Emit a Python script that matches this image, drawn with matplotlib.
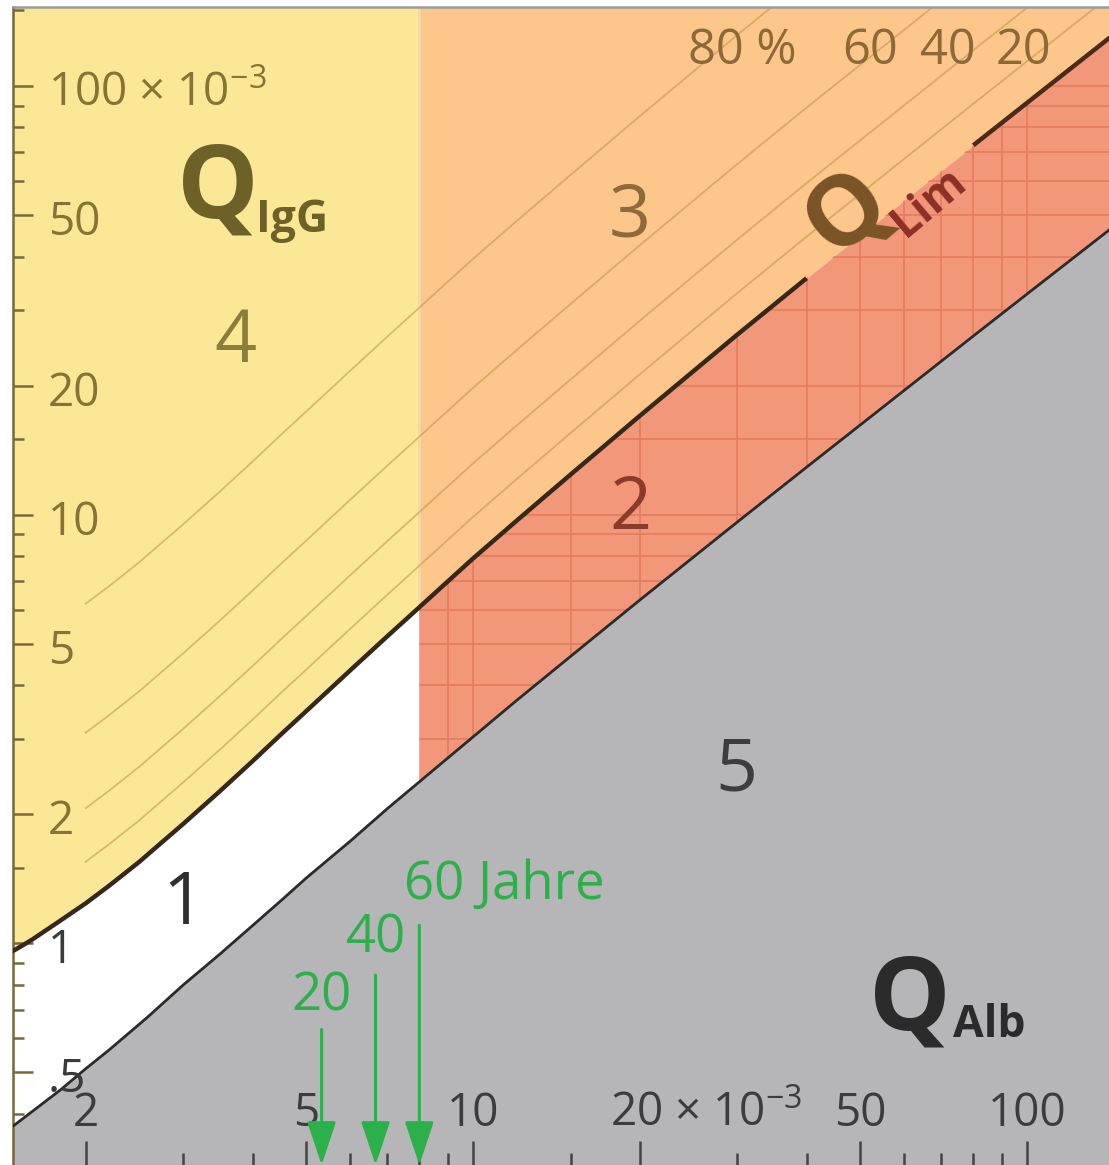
import numpy as np
import matplotlib.pyplot as plt
import matplotlib.transforms as mtransforms

plt.rcParams['font.family'] = ['Open Sans', 'DejaVu Sans']
plt.rcParams['mathtext.fontset'] = 'custom'
plt.rcParams['mathtext.rm'] = 'Open Sans'

q_alb = np.array([1.4, 1.45, 1.5, 1.6, 1.8, 2, 2.2, 2.5, 2.6, 3, 3.5, 4, 4.5, 5, 6, 7, 8,
                  10, 12, 15, 20, 30, 40, 80, 100, 150])
# obere Grenze Q_Lim (IgG)
q_lim_oben = np.array([0.92, 0.947, 0.97, 1.02, 1.13, 1.24, 1.36, 1.55, 1.62, 1.9, 2.27,
                       2.66, 3.07, 3.48, 4.33, 5.2, 6.08, 7.9, 9.69, 12.4, 17.0, 26.3,
                       35.6, 72.7, 91.3, 138])
# untere Grenze
q_lim_unten = np.array([0.357, 0.368, 0.38, 0.405, 0.455, 0.51, 0.563, 0.648, 0.677, 0.8,
                        0.946, 1.1, 1.257, 1.42, 1.73, 2.06, 2.38, 3.03, 3.69, 4.67, 6.32,
                        9.61, 12.9, 26.1, 32.7, 49.2])

# intrathekale Fraktion (%)
prozente = [80, 60, 40, 20]
# altersabhaengige Obergrenze Q_Alb
alter = [20, 40, 60]
alb_grenze = [5.33, 6.67, 8.0]

x_major = [2, 5, 10, 20, 50, 100]
x_minor = [3, 4, 6, 7, 8, 9, 15, 30, 40, 60, 70, 80, 90]
x_labels = ['2', '5', '10', '20 × 10$^{-3}$', '50', '100']
y_major = [0.5, 1, 2, 5, 10, 20, 50, 100]
y_minor = [0.4, 0.6, 0.7, 0.8, 0.9, 1.5, 3, 4, 6, 7, 8, 9, 15, 30, 40, 60, 70, 80, 90, 150]
y_labels = ['.5', '1', '2', '5', '10', '20', '50', '100 × 10$^{-3}$']

gelb = '#FBE897'
orange = '#FDC68A'
rot = '#F3977A'
grau = '#B6B5B7'
gruen = '#2BB04A'

fig = plt.figure(figsize=(11.09, 11.65), dpi=100)
ax = fig.add_axes([13 / 1109, 0, 1096 / 1109, 1158 / 1165])

grenze = alb_grenze[-1]
links = q_alb <= grenze
rechts = q_alb >= grenze

ax.fill_between(q_alb, q_lim_oben, 1000, where=links, color=gelb, lw=0, zorder=1)
ax.fill_between(q_alb, q_lim_oben, 1000, where=rechts, color=orange, lw=0, zorder=1)
rot_fl = ax.fill_between(q_alb, q_lim_unten, q_lim_oben, where=rechts, color=rot, lw=0, zorder=1)
ax.fill_between(q_alb, 0.01, q_lim_unten, color=grau, lw=0, zorder=1)

# Raster im Bereich 2
rot_pfad = rot_fl.get_paths()[0]
vl = ax.vlines(x_major + x_minor, 0.01, 1000, color='#E27D5E', lw=1.2, zorder=1.5)
hl = ax.hlines(y_major + y_minor, 1, 200, color='#E27D5E', lw=1.2, zorder=1.5)
vl.set_clip_path(rot_pfad, ax.transData)
hl.set_clip_path(rot_pfad, ax.transData)

# Trennlinie gelb / orange
ax.vlines(grenze, q_lim_oben[q_alb == grenze][0], 1000, color='#F4D8A6', lw=2, zorder=1.6)

# Prozentlinien
ab2 = q_alb >= 2
for p in prozente:
    ax.plot(q_alb[ab2], q_lim_oben[ab2] / (1 - p / 100), color='#BE9448', alpha=0.55,
            lw=1.3, zorder=1.8)

# Grenzlinien
teil1 = q_alb <= 40
teil2 = q_alb >= 80
ax.plot(q_alb[teil1], q_lim_oben[teil1], color='#35281A', lw=3.2, zorder=3, solid_capstyle='butt')
ax.plot(q_alb[teil2], q_lim_oben[teil2], color='#4A2A1A', lw=3.2, zorder=3, solid_capstyle='butt')
ax.plot(q_alb, q_lim_unten, color='#2B2B2B', lw=2, zorder=3)

ax.set_xscale('log')
ax.set_yscale('log')
ax.set_xlim(1.478, 140.6)
ax.set_ylim(0.304, 152.8)

ax.set_xticks(x_major)
ax.set_xticks(x_minor, minor=True)
ax.set_yticks(y_major)
ax.set_yticks(y_minor, minor=True)
ax.tick_params(which='both', direction='in', labelbottom=False, labelleft=False)
ax.tick_params(axis='x', which='major', length=17, width=1.8, color='#454545')
ax.tick_params(axis='x', which='minor', length=9, width=1.8, color='#454545')
ax.tick_params(axis='y', which='major', length=14.5, width=1.8, color='#77693A')
ax.tick_params(axis='y', which='minor', length=8, width=1.8, color='#77693A')
for t in ax.yaxis.get_major_ticks()[:2]:
    t.tick1line.set_color('#3A3A3A')
ax.set_axisbelow(False)

for s in ['right', 'bottom']:
    ax.spines[s].set_visible(False)
ax.spines['left'].set_color('#77693A')
ax.spines['left'].set_linewidth(1.8)
ax.spines['top'].set_color('#9A9A9A')
ax.spines['top'].set_linewidth(1.8)

# Achsenbeschriftungen innen
ty = mtransforms.offset_copy(mtransforms.blended_transform_factory(ax.transAxes, ax.transData),
                             fig=fig, y=-8, units='dots')
for v, lab in zip(y_major, y_labels):
    farbe = '#3A3A3A' if v <= 1 else '#857434'
    ax.text(0.032, v, lab, transform=ty, ha='left', va='center', fontsize=33, color=farbe, zorder=5)

tx = mtransforms.blended_transform_factory(ax.transData, ax.transAxes)
tx_l = mtransforms.offset_copy(tx, fig=fig, x=-30, units='dots')
tx_x = mtransforms.offset_copy(tx, fig=fig, y=-4, units='dots')
tx_l = mtransforms.offset_copy(tx_l, fig=fig, y=-4, units='dots')
for v, lab in zip(x_major, x_labels):
    if '×' in lab:
        ax.text(v, 0.0475, lab, transform=tx_l, ha='left', va='center', fontsize=33,
                color='#3C3C3C', zorder=5)
    else:
        ax.text(v, 0.0475, lab, transform=tx_x, ha='center', va='center', fontsize=33,
                color='#3C3C3C', zorder=5)

# Bereichsnummern
ax.text(0.2026, 0.710, '4', transform=ax.transAxes, ha='center', va='center', fontsize=53, color='#8C7D3C')
ax.text(0.563, 0.818, '3', transform=ax.transAxes, ha='center', va='center', fontsize=53, color='#8F6A3A')
ax.text(0.563, 0.566, '2', transform=ax.transAxes, ha='center', va='center', fontsize=53, color='#8A3B2B')
ax.text(0.660, 0.339, '5', transform=ax.transAxes, ha='center', va='center', fontsize=53, color='#3D3D3D')
ax.text(0.155, 0.2245, '1', transform=ax.transAxes, ha='center', va='center', fontsize=53, color='#2F2F2F')

# Q-Beschriftungen
ax.text(0.150, 0.818, 'Q', transform=ax.transAxes, ha='left', va='baseline', fontsize=74,
        fontweight='bold', color='#6E6128')
ax.text(0.222, 0.806, 'IgG', transform=ax.transAxes, ha='left', va='baseline', fontsize=32,
        fontweight='bold', color='#6E6128')
ax.text(0.781, 0.1166, 'Q', transform=ax.transAxes, ha='left', va='baseline', fontsize=74,
        fontweight='bold', color='#2B2B2B')
ax.text(0.858, 0.1105, 'Alb', transform=ax.transAxes, ha='left', va='baseline', fontsize=32,
        fontweight='bold', color='#2B2B2B')
ax.text(0.761, 0.822, 'Q', transform=ax.transAxes, ha='center', va='center', fontsize=70,
        fontweight='bold', color='#7A5426', rotation=40, rotation_mode='anchor')
ax.text(0.836, 0.831, 'Lim', transform=ax.transAxes, ha='center', va='center', fontsize=32,
        fontweight='bold', color='#8C3028', rotation=40, rotation_mode='anchor')

# Prozent-Beschriftung
for fx, lab in zip([0.665, 0.782, 0.853, 0.922], ['80 %', '60', '40', '20']):
    ax.text(fx, 0.962, lab, transform=ax.transAxes, ha='center', va='center', fontsize=35,
            color='#8D6936')

# Alterspfeile
starts = [0.117, 0.164, 0.207]
for q, y0 in zip(alb_grenze, starts):
    ax.annotate('', xy=(q, 0.0), xytext=(q, y0), xycoords=tx, textcoords=tx,
                arrowprops=dict(arrowstyle='-|>,head_length=0.9,head_width=0.3',
                                mutation_scale=30, color=gruen, lw=2.2, shrinkA=0, shrinkB=0),
                zorder=6)
ax.text(alb_grenze[0], 0.145, str(alter[0]), transform=tx, ha='center', va='center',
        fontsize=38, color=gruen, zorder=6)
ax.text(alb_grenze[1], 0.195, str(alter[1]), transform=tx, ha='center', va='center',
        fontsize=38, color=gruen, zorder=6)
ax.text(alb_grenze[2], 0.242, str(alter[2]) + ' Jahre',
        transform=mtransforms.offset_copy(tx, fig=fig, x=-15, units='dots'),
        ha='left', va='center', fontsize=38, color=gruen, zorder=6)

fig.savefig('out.png', dpi=100, facecolor='white')
